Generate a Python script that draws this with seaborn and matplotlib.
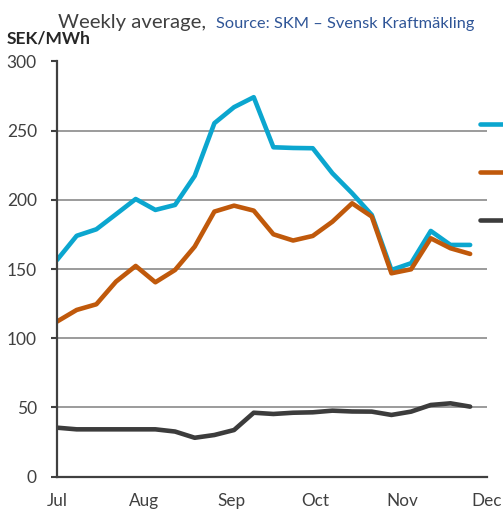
import pandas as pd
import matplotlib.pyplot as plt
import matplotlib.dates as mdates
import seaborn as sns

# weekly averages, SEK/MWh
weeks = pd.date_range("2018-07-01", periods=22, freq="7D")
blue_vals = [156.5, 174, 178.7, 189.6, 200.6, 192.7, 196.3, 217.3, 255.4, 267, 274.2,
             238, 237.5, 237.3, 219.2, 204.8, 189.1, 149.3, 154.2, 177.5, 167.4, 167.4]
orange_vals = [112, 120.4, 124.5, 140.9, 152.2, 140.4, 149.3, 166.2, 191.5, 195.8, 192.2,
               175.1, 170.6, 173.9, 184.2, 197.5, 187.9, 146.9, 149.8, 172.2, 165, 160.9]
dark_vals = [35.3, 34.1, 34.1, 34.1, 34.1, 34.1, 32.5, 28, 30, 33.6, 46.1,
             45.2, 46.1, 46.4, 47.6, 47, 46.9, 44.5, 46.9, 51.7, 52.9, 50.5]
series = ["blue", "orange", "dark"]
colors = {"blue": "#0ba6cf", "orange": "#c0590b", "dark": "#3c3c3c"}

df = pd.DataFrame({"week": list(weeks) * 3,
                   "price": blue_vals + orange_vals + dark_vals,
                   "serie": [s for s in series for _ in weeks]})

sns.set_style("white")
plt.rcParams["font.family"] = ["Lato", "DejaVu Sans"]

fig = plt.figure(figsize=(5.03, 5.09), dpi=100)
ax = fig.add_axes([57 / 503, 1 - 476.5 / 509, 430 / 503, 415 / 509])

sns.lineplot(data=df, x="week", y="price", hue="serie", palette=colors,
             linewidth=3.3, ax=ax, legend=False)
for ln in ax.get_lines():
    ln.set_solid_capstyle("round")

ax.set_xlim(pd.Timestamp("2018-07-01"), pd.Timestamp("2018-12-01"))
ax.set_ylim(0, 300)
ax.set_yticks(range(0, 301, 50))
ax.xaxis.set_major_locator(mdates.MonthLocator())
ax.xaxis.set_major_formatter(mdates.DateFormatter("%b"))
ax.set_xlabel("")
ax.set_ylabel("")

ax.set_axisbelow(True)
ax.yaxis.grid(True, color="#808080", linewidth=1.1)
ax.xaxis.grid(False)
for side in ["top", "right"]:
    ax.spines[side].set_visible(False)
for side in ["left", "bottom"]:
    ax.spines[side].set_color("#404040")
    ax.spines[side].set_linewidth(1.6)

ax.tick_params(axis="y", length=4.5, width=1.5, color="#404040", direction="out",
               labelsize=12.5, labelcolor="#404040", pad=10, left=True)
ax.tick_params(axis="x", length=0, labelsize=12.3, labelcolor="#404040", pad=12)

# legend (cut off at the right edge, like the source image)
handles = ax.get_lines()[:3]
leg = fig.legend(handles, ["", "", ""], loc="upper left",
                 bbox_to_anchor=(480 / 503, 1 - 117 / 509), frameon=False,
                 borderpad=0, borderaxespad=0, handlelength=3, fontsize=12,
                 labelspacing=1.92)

fig.text(7 / 503, 1 - 38 / 509, "SEK/MWh", fontsize=12.5, fontweight="bold",
         color="#262626", va="center", ha="left")
fig.text(58 / 503, 1 - 28 / 509, "Weekly average,", fontsize=14.6, color="#404040",
         va="baseline", ha="left")
fig.text(216 / 503, 1 - 28 / 509, "Source: SKM \u2013 Svensk Kraftm\u00e4kling",
         fontsize=11.8, color="#2f5597", va="baseline", ha="left")

fig.savefig("out.png", dpi=100)
